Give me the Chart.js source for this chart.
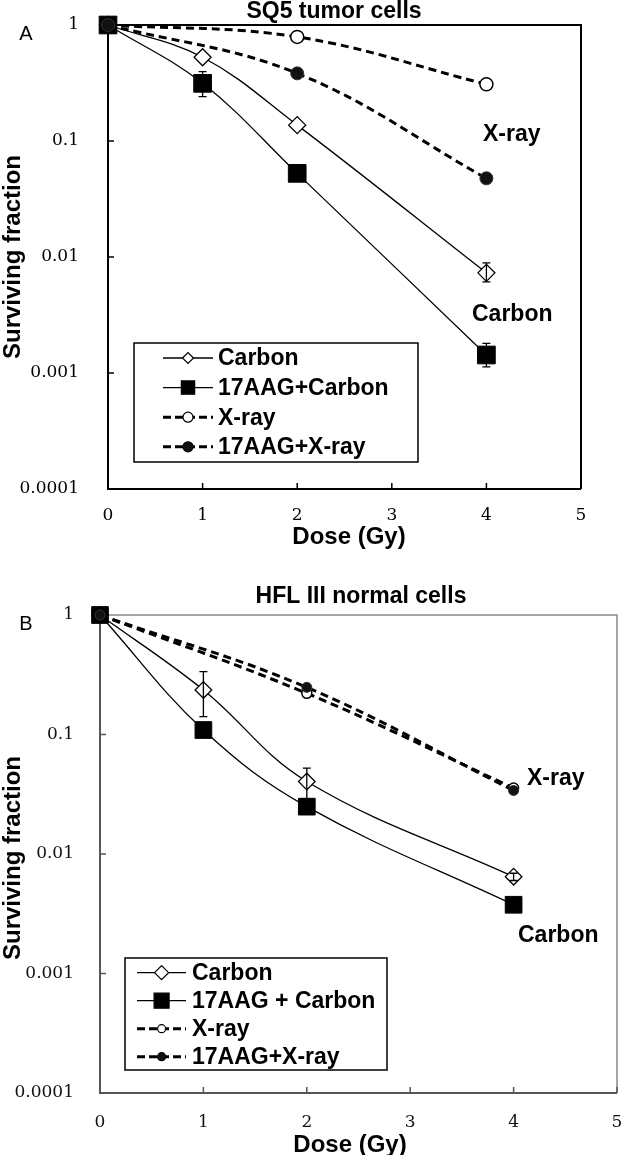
<!DOCTYPE html>
<html>
<head>
<meta charset="utf-8">
<script src="https://cdn.jsdelivr.net/npm/chart.js@4.4.1/dist/chart.umd.min.js"></script>
<style>
html,body{margin:0;padding:0;background:#fff;width:622px;height:1155px;overflow:hidden;}
.wrap{position:absolute;left:0;width:622px;}
canvas{display:block;}
</style>
</head>
<body>
<div class="wrap" style="top:0;height:560px"><canvas id="cA" width="622" height="560"></canvas></div>
<div class="wrap" style="top:560px;height:595px"><canvas id="cB" width="622" height="595"></canvas></div>
<script>
// ---------- DATA ----------
const doses = [0, 1, 2, 4];
const xrayDoses = [0, 2, 4];
const xTickValues = [0, 1, 2, 3, 4, 5];
const xTickLabels = ['0', '1', '2', '3', '4', '5'];
const yTickValues = [0.0001, 0.001, 0.01, 0.1, 1];
const yTickLabels = ['0.0001', '0.001', '0.01', '0.1', '1'];
const namesA = ['Carbon', '17AAG+Carbon', 'X-ray', '17AAG+X-ray'];
const namesB = ['Carbon', '17AAG + Carbon', 'X-ray', '17AAG+X-ray'];

// Panel A: SQ5 tumor cells
const titleA = 'SQ5 tumor cells';
const aCarbon = [1, 0.527, 0.137, 0.0073];
const aCarbonHi = [null, null, null, 0.0089];
const aCarbonLo = [null, null, null, 0.0061];
const aAagCarbon = [1, 0.314, 0.0526, 0.00143];
const aAagCarbonHi = [null, 0.396, null, 0.0018];
const aAagCarbonLo = [null, 0.241, null, 0.00113];
const aXray = [1, 0.79, 0.308];
const aAagXray = [1, 0.383, 0.0477];

// Panel B: HFL III normal cells
const titleB = 'HFL III normal cells';
const bCarbon = [1, 0.236, 0.0404, 0.00646];
const bCarbonHi = [null, 0.336, 0.0523, 0.0069];
const bCarbonLo = [null, 0.141, 0.029, 0.0060];
const bAagCarbon = [1, 0.109, 0.0249, 0.00376];
const bXray = [1, 0.221, 0.0357];
const bAagXray = [1, 0.248, 0.034];

// ---------- HELPERS ----------
const pts = (xs, ys) => xs.map((x, i) => ({ x: x, y: ys[i] }));
const BOLD = (s) => 'bold ' + s + 'px "Liberation Sans", Arial, sans-serif';

function marker(ctx, style, x, y, r, fill, bw, stroke) {
  ctx.save();
  ctx.setLineDash([]);
  ctx.beginPath();
  if (style === 'rectRot') {
    ctx.moveTo(x - r, y); ctx.lineTo(x, y - r); ctx.lineTo(x + r, y); ctx.lineTo(x, y + r); ctx.closePath();
  } else if (style === 'rect') {
    const s = r * Math.SQRT1_2; ctx.rect(x - s, y - s, 2 * s, 2 * s);
  } else {
    ctx.arc(x, y, r, 0, Math.PI * 2);
  }
  ctx.fillStyle = fill; ctx.fill();
  ctx.lineWidth = bw; ctx.strokeStyle = stroke; ctx.stroke();
  ctx.restore();
}

const decor = {
  id: 'decor',
  beforeDatasetsDraw(chart, args, o) {
    const ctx = chart.ctx, ca = chart.chartArea, xs = chart.scales.x, ys = chart.scales.y;
    const f = o.frame;
    ctx.save();
    ctx.strokeStyle = f.borderColor; ctx.lineWidth = f.borderWidth;
    ctx.beginPath(); ctx.moveTo(ca.left, ca.top); ctx.lineTo(ca.right, ca.top); ctx.lineTo(ca.right, ca.bottom); ctx.stroke();
    ctx.strokeStyle = f.axisColor; ctx.lineWidth = f.axisWidth;
    ctx.beginPath(); ctx.moveTo(ca.left, ca.top); ctx.lineTo(ca.left, ca.bottom); ctx.lineTo(ca.right, ca.bottom); ctx.stroke();
    ctx.lineWidth = f.tickWidth;
    ctx.beginPath();
    yTickValues.forEach(v => { const py = ys.getPixelForValue(v); ctx.moveTo(ca.left, py); ctx.lineTo(ca.left + f.tickLen, py); });
    xTickValues.forEach(v => { const px = xs.getPixelForValue(v); ctx.moveTo(px, ca.bottom); ctx.lineTo(px, ca.bottom - f.tickLen); });
    ctx.stroke();
    ctx.restore();
  },
  afterDatasetsDraw(chart, args, o) {
    const ctx = chart.ctx, xs = chart.scales.x, ys = chart.scales.y;
    ctx.save();
    ctx.strokeStyle = '#000'; ctx.lineWidth = 1.3; ctx.setLineDash([]);
    o.errors.forEach(e => {
      e.xs.forEach((xv, i) => {
        if (e.hi[i] == null) return;
        const px = xs.getPixelForValue(xv);
        const y1 = ys.getPixelForValue(e.hi[i]), y2 = ys.getPixelForValue(e.lo[i]);
        ctx.beginPath();
        ctx.moveTo(px, y1); ctx.lineTo(px, y2);
        ctx.moveTo(px - 4, y1); ctx.lineTo(px + 4, y1);
        ctx.moveTo(px - 4, y2); ctx.lineTo(px + 4, y2);
        ctx.stroke();
      });
    });
    ctx.restore();
  },
  afterDraw(chart, args, o) {
    const ctx = chart.ctx;
    ctx.save();
    ctx.fillStyle = '#000';
    ctx.font = BOLD(o.title.size); ctx.textAlign = 'center'; ctx.textBaseline = 'alphabetic';
    ctx.fillText(o.title.text, o.title.x, o.title.y);
    ctx.font = '20px "Liberation Sans", Arial, sans-serif'; ctx.textBaseline = 'middle';
    ctx.fillText(o.letter.text, o.letter.x, o.letter.y);
    ctx.font = BOLD(24);
    ctx.fillText(o.xTitle.text, o.xTitle.x, o.xTitle.y);
    ctx.save(); ctx.translate(o.yTitle.x, o.yTitle.y); ctx.rotate(-Math.PI / 2);
    ctx.fillText(o.yTitle.text, 0, 0); ctx.restore();
    ctx.font = BOLD(23); ctx.textAlign = 'left';
    o.notes.forEach(n => ctx.fillText(n.text, n.x, n.y));
    const L = o.legend;
    ctx.lineWidth = 1.5; ctx.strokeStyle = '#000'; ctx.setLineDash([]);
    ctx.strokeRect(L.x, L.y, L.w, L.h);
    ctx.font = BOLD(L.size);
    L.order.forEach((di, i) => {
      const ds = chart.data.datasets[di];
      const y = L.firstY + i * L.step;
      ctx.save();
      ctx.strokeStyle = '#000'; ctx.lineWidth = ds.borderDash ? 3 : 1.3;
      ctx.setLineDash(ds.borderDash ? [8, 4] : []);
      ctx.beginPath(); ctx.moveTo(L.lineX0, y); ctx.lineTo(L.lineX1, y); ctx.stroke();
      ctx.restore();
      marker(ctx, ds.pointStyle, L.markX, y, L.radii[i], ds.pointBackgroundColor, 1.2, '#000');
      ctx.fillText(ds.label, L.textX, y + 1);
    });
    ctx.restore();
  }
};

function makeDatasets(names, carbon, aagCarbon, xray, aagXray, r) {
  return [
    { label: names[0], data: pts(doses, carbon), order: 3, borderColor: '#000', borderWidth: 1.3,
      pointStyle: 'rectRot', pointRadius: r.dia, pointBackgroundColor: '#fff', pointBorderColor: '#000', pointBorderWidth: 1.3,
      tension: 0.38, clip: false, fill: false },
    { label: names[1], data: pts(doses, aagCarbon), order: 2, borderColor: '#000', borderWidth: 1.3,
      pointStyle: 'rect', pointRadius: r.sq, pointBackgroundColor: '#000', pointBorderColor: '#000', pointBorderWidth: 1,
      tension: 0.38, clip: false, fill: false },
    { label: names[2], data: pts(xrayDoses, xray), order: 1, borderColor: '#000', borderWidth: 3, borderDash: [8, 5],
      pointStyle: 'circle', pointRadius: r.circ, pointBackgroundColor: '#fff', pointBorderColor: '#000', pointBorderWidth: 1.5,
      tension: 0.38, clip: false, fill: false },
    { label: names[3], data: pts(xrayDoses, aagXray), order: 0, borderColor: '#000', borderWidth: 3, borderDash: [8, 5],
      pointStyle: 'circle', pointRadius: r.circ, pointBackgroundColor: '#111', pointBorderColor: '#333', pointBorderWidth: 1,
      tension: 0.38, clip: false, fill: false }
  ];
}

function makeScales(yWidth, yPad, xHeight, xPad, tickColor) {
  const font = { family: '"DejaVu Serif", serif', size: 17 };
  return {
    x: { type: 'linear', min: 0, max: 5,
      afterBuildTicks: s => { s.ticks = xTickValues.map(v => ({ value: v })); },
      ticks: { callback: (v, i) => xTickLabels[i], font: font, color: tickColor, padding: xPad, maxRotation: 0, autoSkip: false },
      grid: { display: false }, border: { display: false },
      afterFit: s => { s.height = xHeight; s.paddingLeft = 0; s.paddingRight = 0; } },
    y: { type: 'logarithmic', min: 0.0001, max: 1,
      afterBuildTicks: s => { s.ticks = yTickValues.map(v => ({ value: v })); },
      ticks: { callback: (v, i) => yTickLabels[i], font: font, color: tickColor, padding: yPad, autoSkip: false },
      grid: { display: false }, border: { display: false },
      afterFit: s => { s.width = yWidth; s.paddingTop = 0; s.paddingBottom = 0; } }
  };
}

const common = { responsive: false, animation: false, events: [], devicePixelRatio: 1 };

new Chart(document.getElementById('cA'), {
  type: 'line',
  data: { datasets: makeDatasets(namesA, aCarbon, aAagCarbon, aXray, aAagXray, { dia: 8.5, sq: 12.5, circ: 6.5 }) },
  options: Object.assign({}, common, {
    layout: { autoPadding: false, padding: { left: 0, top: 25, right: 41, bottom: 0 } },
    scales: makeScales(108, 21, 71, 8, '#000'),
    plugins: {
      legend: { display: false }, tooltip: { enabled: false },
      decor: {
        frame: { axisColor: '#000', axisWidth: 2, borderColor: '#000', borderWidth: 2, tickLen: 6, tickWidth: 1.5 },
        title: { text: titleA, x: 334, y: 18, size: 23 },
        letter: { text: 'A', x: 26, y: 34 },
        xTitle: { text: 'Dose (Gy)', x: 349, y: 537 },
        yTitle: { text: 'Surviving fraction', x: 13, y: 257 },
        notes: [{ text: 'X-ray', x: 483, y: 135 }, { text: 'Carbon', x: 472, y: 315 }],
        legend: { x: 134, y: 343, w: 284, h: 119, firstY: 358, step: 29.6, lineX0: 163, lineX1: 213, markX: 188, textX: 218,
          size: 23, order: [0, 1, 2, 3], radii: [5.5, 9.4, 5, 5] },
        errors: [ { xs: doses, hi: aCarbonHi, lo: aCarbonLo }, { xs: doses, hi: aAagCarbonHi, lo: aAagCarbonLo } ]
      }
    }
  }),
  plugins: [decor]
});

new Chart(document.getElementById('cB'), {
  type: 'line',
  data: { datasets: makeDatasets(namesB, bCarbon, bAagCarbon, bXray, bAagXray, { dia: 8.3, sq: 11.8, circ: 5 }) },
  options: Object.assign({}, common, {
    layout: { autoPadding: false, padding: { left: 0, top: 55, right: 5, bottom: 0 } },
    scales: makeScales(100, 18, 62, 11, '#111'),
    plugins: {
      legend: { display: false }, tooltip: { enabled: false },
      decor: {
        frame: { axisColor: '#555', axisWidth: 2, borderColor: '#888', borderWidth: 1.5, tickLen: 6, tickWidth: 1.5 },
        title: { text: titleB, x: 361, y: 43, size: 23 },
        letter: { text: 'B', x: 26, y: 64 },
        xTitle: { text: 'Dose (Gy)', x: 350, y: 585 },
        yTitle: { text: 'Surviving fraction', x: 13, y: 298 },
        notes: [{ text: 'X-ray', x: 527, y: 219 }, { text: 'Carbon', x: 518, y: 376 }],
        legend: { x: 125, y: 398, w: 262, h: 112, firstY: 412.7, step: 28, lineX0: 137, lineX1: 186, markX: 161.6, textX: 192,
          size: 23, order: [0, 1, 2, 3], radii: [7, 10.6, 4, 4] },
        errors: [ { xs: doses, hi: bCarbonHi, lo: bCarbonLo } ]
      }
    }
  }),
  plugins: [decor]
});
</script>
</body>
</html>
